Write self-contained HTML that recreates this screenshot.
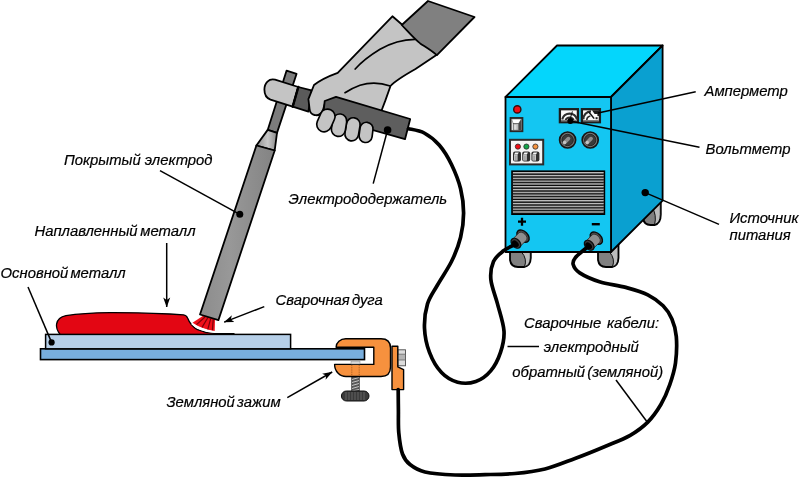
<!DOCTYPE html>
<html>
<head>
<meta charset="utf-8">
<title>Схема ручной дуговой сварки</title>
<style>
html,body{margin:0;padding:0;background:#fff;}
body{width:800px;height:478px;overflow:hidden;}
svg{display:block;}
text{font-family:"Liberation Sans",sans-serif;font-style:italic;font-size:14.85px;fill:#000;stroke:#000;stroke-width:0.2px;word-spacing:-2px;}
.k{stroke:#000;stroke-width:1.8;stroke-linejoin:round;stroke-linecap:round;}
.ld{stroke:#000;stroke-width:1.5;fill:none;}
</style>
</head>
<body>
<svg width="800" height="478" viewBox="0 0 800 478">
<defs>
<linearGradient id="gEl" x1="0" y1="0" x2="1" y2="0">
<stop offset="0" stop-color="#8c8c8c"/><stop offset="0.4" stop-color="#989898"/><stop offset="1" stop-color="#838383"/>
</linearGradient>
<linearGradient id="gTap" x1="0" y1="0" x2="1" y2="0">
<stop offset="0" stop-color="#8e8e8e"/><stop offset="0.55" stop-color="#c8c8c8"/><stop offset="1" stop-color="#8a8a8a"/>
</linearGradient>
<marker id="ah" viewBox="0 0 10 10" refX="9.6" refY="5" markerWidth="10" markerHeight="10" orient="auto" markerUnits="userSpaceOnUse">
<path d="M0,1.5 L10,5 L0,8.5 L2.6,5 Z" fill="#000"/>
</marker>
<filter id="soft" x="-2%" y="-2%" width="104%" height="104%"><feGaussianBlur stdDeviation="0.3"/></filter>
</defs>
<rect width="800" height="478" fill="#fff"/>

<!-- ============ WORKPIECE ============ -->
<g id="work">
<!-- lower plate -->
<rect x="40.5" y="348.8" width="324" height="10.8" fill="#78aedd" stroke="#000" stroke-width="1.6"/>
<!-- weld bead -->
<path d="M60,334.4 C57.5,331 56,327 56.6,324 C57.5,319 60.5,316.6 66,315.6 C80,313.4 95,312.8 110,312.6 C130,312.5 150,313.2 170,314 L183.5,314.8 Q186.6,315.2 187.6,318 Q190.5,325.5 197,329.4 Q205,333 214,333.4 L234,333.6 L234,334.8 L60,334.8 Z" fill="#e30613" stroke="#000" stroke-width="1.3" stroke-linejoin="round"/>
<!-- upper plate -->
<rect x="45.6" y="334.4" width="245" height="14.4" fill="#b6cfe8" stroke="#000" stroke-width="1.5"/>
<!-- arc -->
<path d="M203.5,315.6 L215,319.2 L214.7,330.9 Q201.5,329 192.5,322.8 Z" fill="#f0101a"/>
<g stroke="#7a0008" stroke-width="1.2" fill="none">
<path d="M205,317 L196.5,324.6"/><path d="M207.8,317.8 L202,327.4"/><path d="M210.6,318.8 L207.8,329.4"/><path d="M213.2,319.6 L212.4,330.3"/>
</g>
<!-- white pool crescent -->
<path d="M192.3,323.2 Q201.5,329.6 214.7,331.4 L214.9,332.9 Q199,332 191.3,324.2 Z" fill="#fff"/>
</g>

<!-- ============ CLAMP ============ -->
<g id="clamp">
<!-- lug + bolt -->
<rect x="397.8" y="349.8" width="7.7" height="16" fill="#dcdcdc" stroke="#4a4a4a" stroke-width="0.9"/>
<rect x="398.2" y="354.2" width="6.9" height="5.8" fill="#b4b4b4"/>
<path d="M397.8,354.2 H405.5 M397.8,360 H405.5" stroke="#6a6a6a" stroke-width="0.8"/>
<path d="M392,346.2 L397.8,346.2 L397.8,366.8 L403.6,369.6 L403.6,389.6 L392,389.6 Z" fill="#f6913e" stroke="#000" stroke-width="1.4" stroke-linejoin="round"/>
<!-- screw -->
<rect x="351.8" y="376" width="7.4" height="15" fill="#5a5a5a" stroke="#222" stroke-width="0.8"/>
<path d="M352,379.5 L359,377.5 M352,382.5 L359,380.5 M352,385.5 L359,383.5 M352,388.5 L359,386.5 M352,391 L359,389.5" stroke="#d0d0d0" stroke-width="0.9"/>
<!-- knob -->
<rect x="341.4" y="391" width="27.6" height="10" rx="5" ry="5" fill="#3a3a3a" stroke="#111" stroke-width="1"/>
<g stroke="#777" stroke-width="0.7"><path d="M346,392 V400 M349,392 V400 M352,392 V400 M355,392 V400 M358,392 V400 M361,392 V400 M364,392 V400"/></g>
<!-- C body -->
<path d="M336.1,347.2 A9.6,8.4 0 0 1 345.7,338.8 L381,338.8 Q390.5,338.8 390.5,348 L390.5,367 Q390.5,376.5 381,376.5 L346,376.5 A11.4,12.1 0 0 1 334.6,364.4 L373.8,364.4 L373.8,347.2 Z" fill="#f6913e" stroke="#000" stroke-width="1.4" stroke-linejoin="round"/>
<path d="M351.8,365 V376 M359.2,365 V376" stroke="#7a3a08" stroke-width="0.6" stroke-dasharray="1.2 1"/>
<rect x="351" y="361.6" width="9" height="2.4" fill="#d9d9d9" stroke="#888" stroke-width="0.5"/>
</g>

<!-- ============ ELECTRODE ============ -->
<g id="electrode">
<!-- core rod -->
<path class="k" d="M286.6,70.6 L296.6,73.8 L277,132.9 L267.7,129.9 Z" fill="#7c7c7c"/>
<!-- taper -->
<path class="k" d="M267.7,129.9 L277,132.9 L274.7,150.5 L256.4,145.5 Z" fill="url(#gTap)"/>
<!-- coated body -->
<path class="k" d="M256.4,145.5 L274.7,150.5 L218.4,320.2 L200,314.5 Z" fill="url(#gEl)"/>
</g>

<!-- ============ HOLDER + HAND ============ -->
<g id="hand">
<!-- head -->
<path class="k" d="M298.3,87 L275.1,79.7 C269,78 264.4,83 264.4,89.5 C264.4,95 266.5,98.2 270.5,99.7 L292.7,106.7 Z" fill="#c4c4c4"/>
<!-- joint -->
<path class="k" d="M298.3,87 L311.5,90.4 L308.4,111.6 L292.7,106.7 Z" fill="#5a5a5a"/>
<path d="M298.3,87 L292.7,106.7" stroke="#000" stroke-width="2.4" fill="none" stroke-linecap="round"/>
<!-- glove body -->
<path class="k" d="M392.4,16.3 L436.8,54.7 L415.5,69 Q396,80 390.5,86 L385.4,100.4 L381,112 L336.4,98 L325,103 L323,110 Q320,116.5 314.5,115 Q310,114 309.6,109 L308.4,99.2 L314,85 Q322,78.5 337.7,72.8 Z" fill="#c4c4c4"/>
<!-- sleeve -->
<path class="k" d="M428,1 L474.5,17 L436.9,55.1 C431,50 424,46 420.2,43.4 C415,39.5 408,31.5 401.8,25 Z" fill="#808080"/>
<!-- glove fold lines -->
<path d="M415,39.4 C402,39.6 390,43.5 380,49.3 C369,56 361,62.5 355.2,69" fill="none" stroke="#000" stroke-width="1.7" stroke-linecap="round"/>
<path d="M390.3,86 Q375,80.5 360,85.2 Q351,88.5 345,92.7" fill="none" stroke="#000" stroke-width="1.7" stroke-linecap="round"/>
<!-- handle -->
<path class="k" d="M324.7,101 L336,96.8 L410.2,119 L405,139.2 L330,118 L323.8,110 Z" fill="#5e5e5e"/>
<circle cx="387.6" cy="130" r="3.8" fill="#000"/>
<!-- fingers -->
<line x1="366.5" y1="128.8" x2="365.6" y2="136" stroke="#000" stroke-width="14.7" stroke-linecap="round"/><line x1="366.5" y1="128.8" x2="365.6" y2="136" stroke="#c4c4c4" stroke-width="11.4" stroke-linecap="round"/>
<line x1="353.3" y1="124.6" x2="351.7" y2="134.1" stroke="#000" stroke-width="15.3" stroke-linecap="round"/><line x1="353.3" y1="124.6" x2="351.7" y2="134.1" stroke="#c4c4c4" stroke-width="12.0" stroke-linecap="round"/>
<line x1="339.7" y1="121" x2="338.4" y2="129.4" stroke="#000" stroke-width="15.7" stroke-linecap="round"/><line x1="339.7" y1="121" x2="338.4" y2="129.4" stroke="#c4c4c4" stroke-width="12.4" stroke-linecap="round"/>
<line x1="327.6" y1="116.5" x2="324.1" y2="124.4" stroke="#000" stroke-width="16.5" stroke-linecap="round"/><line x1="327.6" y1="116.5" x2="324.1" y2="124.4" stroke="#c4c4c4" stroke-width="13.2" stroke-linecap="round"/>
</g>

<!-- ============ MACHINE ============ -->
<g id="machine">
<!-- wheels back -->
<path class="k" d="M643,205 L643,218 Q644,225 650.5,225 L654.5,225 Q660.8,223.5 660.8,214.5 L660.8,197 Z" fill="#808080"/>
<path d="M652,207 Q657,215 654.6,224.6 Q660.3,223 660.3,214.5 L660.3,199 Z" fill="#bcbcbc" stroke="#000" stroke-width="0.9"/>
<!-- wheels front -->
<path class="k" d="M510,251 L510,260 Q511,267 518,267 L524,267 Q530.5,266 530.8,258 L530.8,251 Z" fill="#808080"/>
<path d="M521.5,252 Q527.5,259 524.5,266.7 Q530,265.5 530.3,258 L530.3,252 Z" fill="#bcbcbc" stroke="#000" stroke-width="0.9"/>
<path class="k" d="M598,251 L598,260 Q599,267 606,267 L612,267 Q618.2,266 618.5,258 L618.5,244 Z" fill="#808080"/>
<path d="M609.5,252 Q615.5,259 612.5,266.7 Q617.7,265.5 618,258 L618,245.5 Z" fill="#bcbcbc" stroke="#000" stroke-width="0.9"/>
<!-- top -->
<path class="k" d="M505.5,97 L557,45.5 L662.6,45.5 L611,97 Z" fill="#04d6fc" stroke-width="2"/>
<!-- right face -->
<path class="k" d="M611,97 L662.6,45.5 L662.6,200.6 L611,252 Z" fill="#0aa0d0" stroke-width="2"/>
<!-- front -->
<path class="k" d="M505.5,97 L611,97 L611,252 L505.5,252 Z" fill="#14c6f2" stroke-width="2"/>

<!-- grille -->
<rect x="512" y="171.2" width="92.4" height="43" fill="#6a6a6a" stroke="#000" stroke-width="1.6"/>
<g stroke="#cfcfcf" stroke-width="0.9"><line x1="513" y1="172.60" x2="603.6" y2="172.60"/><line x1="513" y1="175.40" x2="603.6" y2="175.40"/><line x1="513" y1="178.20" x2="603.6" y2="178.20"/><line x1="513" y1="181.00" x2="603.6" y2="181.00"/><line x1="513" y1="183.80" x2="603.6" y2="183.80"/><line x1="513" y1="186.60" x2="603.6" y2="186.60"/><line x1="513" y1="189.40" x2="603.6" y2="189.40"/><line x1="513" y1="192.20" x2="603.6" y2="192.20"/><line x1="513" y1="195.00" x2="603.6" y2="195.00"/><line x1="513" y1="197.80" x2="603.6" y2="197.80"/><line x1="513" y1="200.60" x2="603.6" y2="200.60"/><line x1="513" y1="203.40" x2="603.6" y2="203.40"/><line x1="513" y1="206.20" x2="603.6" y2="206.20"/><line x1="513" y1="209.00" x2="603.6" y2="209.00"/><line x1="513" y1="211.80" x2="603.6" y2="211.80"/></g>
<g stroke="#0e0e0e" stroke-width="1"><line x1="513" y1="174.30" x2="603.6" y2="174.30"/><line x1="513" y1="177.10" x2="603.6" y2="177.10"/><line x1="513" y1="179.90" x2="603.6" y2="179.90"/><line x1="513" y1="182.70" x2="603.6" y2="182.70"/><line x1="513" y1="185.50" x2="603.6" y2="185.50"/><line x1="513" y1="188.30" x2="603.6" y2="188.30"/><line x1="513" y1="191.10" x2="603.6" y2="191.10"/><line x1="513" y1="193.90" x2="603.6" y2="193.90"/><line x1="513" y1="196.70" x2="603.6" y2="196.70"/><line x1="513" y1="199.50" x2="603.6" y2="199.50"/><line x1="513" y1="202.30" x2="603.6" y2="202.30"/><line x1="513" y1="205.10" x2="603.6" y2="205.10"/><line x1="513" y1="207.90" x2="603.6" y2="207.90"/><line x1="513" y1="210.70" x2="603.6" y2="210.70"/><line x1="513" y1="213.50" x2="603.6" y2="213.50"/></g>
<!-- red lamp -->
<circle cx="517.3" cy="109.4" r="3.6" fill="#f00d14" stroke="#3a0a0a" stroke-width="1.4"/>
<!-- toggle switch -->
<rect x="510.6" y="118" width="11.8" height="13.2" fill="#f3f3f3" stroke="#262626" stroke-width="1.9"/>
<path d="M511.6,119 L521.4,119 L518.6,123.6 L513.2,123.6 Z" fill="#fff" stroke="#555" stroke-width="0.5"/>
<path d="M521.4,119 L521.4,130.2 L518.6,130.2 L518.6,123.6 Z" fill="#454545"/>
<rect x="513.2" y="123.6" width="5.2" height="6.6" fill="#bcbcbc" stroke="#4a4a4a" stroke-width="0.6"/>
<rect x="514.2" y="125" width="2.2" height="4.6" fill="#dedede"/>
<!-- 3-button panel -->
<rect x="510" y="139.8" width="33.2" height="24.6" fill="#f4f4f4" stroke="#2b2b2b" stroke-width="2"/>
<circle cx="517.9" cy="146.6" r="2.6" fill="#f00d14" stroke="#2a2a2a" stroke-width="0.8"/>
<circle cx="526.4" cy="146.6" r="2.6" fill="#13a54a" stroke="#2a2a2a" stroke-width="0.8"/>
<circle cx="535.4" cy="146.6" r="2.6" fill="#f59340" stroke="#2a2a2a" stroke-width="0.8"/>
<rect x="513" y="151.6" width="8" height="10" rx="2" fill="#2e2e2e"/><path d="M514,154.6 L515.2,152.6 L518.8,152.6 L517.6,154.6 Z" fill="#f5f5f5"/><rect x="514" y="154.6" width="3.6" height="6" fill="#c9c9c9"/><rect x="514.8" y="155.6" width="1.8" height="4.4" fill="#a5a5a5"/>
<rect x="522.2" y="151.6" width="8" height="10" rx="2" fill="#2e2e2e"/><path d="M523.2,154.6 L524.4000000000001,152.6 L528.0,152.6 L526.8000000000001,154.6 Z" fill="#f5f5f5"/><rect x="523.2" y="154.6" width="3.6" height="6" fill="#c9c9c9"/><rect x="524.0" y="155.6" width="1.8" height="4.4" fill="#a5a5a5"/>
<rect x="531.4" y="151.6" width="8" height="10" rx="2" fill="#2e2e2e"/><path d="M532.4,154.6 L533.6,152.6 L537.1999999999999,152.6 L536.0,154.6 Z" fill="#f5f5f5"/><rect x="532.4" y="154.6" width="3.6" height="6" fill="#c9c9c9"/><rect x="533.1999999999999" y="155.6" width="1.8" height="4.4" fill="#a5a5a5"/>
<!-- meters -->
<g>
<rect x="559.9" y="109.2" width="18" height="13" fill="#fafafa" stroke="#1c1c1c" stroke-width="2.3"/>
<rect x="581.9" y="109.2" width="18" height="13" fill="#fafafa" stroke="#1c1c1c" stroke-width="2.3"/>
<path d="M562.2,119.4 A7.6,7.6 0 0 1 577,119.4" fill="none" stroke="#2e2e2e" stroke-width="2.2"/>
<path d="M565.4,120.6 A4.4,4.4 0 0 1 573.8,120.6" fill="none" stroke="#2e2e2e" stroke-width="1.8"/>
<line x1="569.6" y1="120.6" x2="572.4" y2="111.4" stroke="#111" stroke-width="1"/>
<rect x="561" y="120" width="15.8" height="1.5" fill="#7d7d7d"/>
<path d="M583.4,119.4 A7.6,7.6 0 0 1 591,111.4" fill="none" stroke="#2e2e2e" stroke-width="2.2"/>
<path d="M586.8,120.6 A4.4,4.4 0 0 1 590.4,116" fill="none" stroke="#2e2e2e" stroke-width="1.7"/>
<path d="M588.8,112 L594.2,118.6" stroke="#111" stroke-width="1.5" fill="none"/>
<path d="M592,110.2 L599,110.2 L599,116 L597.4,116 L597.4,114 L594.6,114 Z" fill="#1c1c1c"/>
<rect x="595.6" y="117.2" width="2" height="2" fill="#1c1c1c"/>
<rect x="583" y="120" width="15.8" height="1.5" fill="#7d7d7d"/>
</g>
<!-- knobs -->
<g>
<circle cx="567.6" cy="140" r="8" fill="#767676" stroke="#161616" stroke-width="1.7"/><circle cx="567.6" cy="140" r="5.7" fill="#3a3a3a" stroke="#1c1c1c" stroke-width="0.8"/><line x1="564.6" y1="142.5" x2="568.4" y2="138.7" stroke="#8e8e8e" stroke-width="3.8" stroke-linecap="round"/><circle cx="564.6" cy="142.5" r="1.7" fill="#c2c2c2"/>
<circle cx="590.2" cy="140" r="8" fill="#767676" stroke="#161616" stroke-width="1.7"/><circle cx="590.2" cy="140" r="5.7" fill="#3a3a3a" stroke="#1c1c1c" stroke-width="0.8"/><line x1="587.2" y1="142.5" x2="591.0" y2="138.7" stroke="#8e8e8e" stroke-width="3.8" stroke-linecap="round"/><circle cx="587.2" cy="142.5" r="1.7" fill="#c2c2c2"/>
</g>
<!-- connectors -->
<g transform="translate(523,236.2) rotate(135)">
<ellipse cx="0" cy="0" rx="4.8" ry="7.3" fill="#4c4c4c" stroke="#0c0c0c" stroke-width="1.4"/>
<path d="M0.6,-5.3 A3.4,5.3 0 0 0 0.6,5.3 L9.5,5.2 L9.5,-5.2 Z" fill="#8e8e8e" stroke="#2a2a2a" stroke-width="0.8"/>
<ellipse cx="10" cy="0" rx="3.9" ry="5.7" fill="#3a3a3a" stroke="#0c0c0c" stroke-width="1.3"/>
<ellipse cx="10.8" cy="0" rx="2.7" ry="3.9" fill="#000"/>
</g>
<g transform="translate(596.3,238.2) rotate(135)">
<ellipse cx="0" cy="0" rx="4.8" ry="7.3" fill="#4c4c4c" stroke="#0c0c0c" stroke-width="1.4"/>
<path d="M0.6,-5.3 A3.4,5.3 0 0 0 0.6,5.3 L9.5,5.2 L9.5,-5.2 Z" fill="#8e8e8e" stroke="#2a2a2a" stroke-width="0.8"/>
<ellipse cx="10" cy="0" rx="3.9" ry="5.7" fill="#3a3a3a" stroke="#0c0c0c" stroke-width="1.3"/>
<ellipse cx="10.8" cy="0" rx="2.7" ry="3.9" fill="#000"/>
</g>
<!-- plus / minus -->
<path d="M518,221.7 H526 M522,217.7 V225.7" stroke="#000" stroke-width="2.3" fill="none"/>
<path d="M591.8,224.2 H599.8" stroke="#000" stroke-width="2.4" fill="none"/>
</g>

<!-- ============ CABLES ============ -->
<g id="cables" fill="none" stroke="#000" stroke-width="3.7" stroke-linecap="round" stroke-linejoin="round">
<path d="M408.5,128.7 C411.1,129.4 419.1,130.2 424.2,133.0 C429.3,135.8 434.8,139.9 439.4,145.2 C443.9,150.4 448.0,157.2 451.5,164.5 C455.0,171.8 458.6,180.7 460.6,188.8 C462.6,196.9 463.6,204.9 463.6,213.0 C463.6,221.1 462.6,229.2 460.6,237.3 C458.6,245.4 455.4,253.6 451.5,261.5 C447.6,269.4 441.5,277.9 437.5,285.0 C433.5,292.1 429.7,296.7 427.5,303.9 C425.3,311.1 424.2,320.1 424.5,328.2 C424.8,336.3 426.7,345.0 429.5,352.4 C432.3,359.8 436.8,367.6 441.5,372.6 C446.2,377.6 451.9,380.7 457.6,382.2 C463.3,383.7 470.2,383.4 475.8,381.5 C481.4,379.6 486.8,375.5 490.9,370.6 C495.0,365.8 498.3,359.0 500.5,352.4 C502.7,345.8 504.5,339.3 504.0,331.2 C503.5,323.1 499.7,312.5 497.5,303.9 C495.3,295.3 491.6,286.8 490.9,279.7 C490.2,272.6 491.4,266.3 493.5,261.5 C495.6,256.7 500.0,253.6 503.5,250.8 C507.0,248.0 512.7,245.8 514.5,244.8"/>
<path d="M587.8,246.8 C585.7,248.6 577.8,254.6 575.4,257.6 C573.0,260.6 572.5,262.1 573.2,264.6 C573.9,267.2 575.3,270.0 579.7,272.9 C584.1,275.8 591.8,279.3 599.5,281.7 C607.2,284.1 617.8,285.2 625.8,287.4 C633.8,289.6 641.6,291.7 647.8,294.8 C654.0,297.9 659.1,301.8 663.1,305.8 C667.1,309.8 669.7,313.9 671.9,319.0 C674.1,324.1 675.7,329.2 676.3,336.5 C676.9,343.8 676.6,354.8 675.5,362.9 C674.4,370.9 672.1,377.9 669.7,384.8 C667.3,391.7 664.5,398.3 660.9,404.5 C657.2,410.7 652.9,417.0 647.8,422.1 C642.7,427.2 637.3,431.2 630.2,435.3 C623.1,439.4 614.2,442.6 605.0,446.5 C595.8,450.4 585.0,454.8 575.0,458.5 C565.0,462.2 555.0,466.5 545.0,469.0 C535.0,471.5 525.0,472.6 515.0,473.5 C505.0,474.4 495.0,474.4 485.0,474.6 C475.0,474.9 465.0,475.4 455.0,475.0 C445.0,474.6 432.5,473.8 425.0,472.0 C417.5,470.2 413.8,467.5 410.0,464.5 C406.2,461.5 404.4,459.2 402.5,454.0 C400.6,448.8 399.5,440.3 398.8,433.0 C398.1,425.7 398.5,417.2 398.4,410.0 C398.3,402.8 398.2,392.9 398.2,389.5"/>
</g>

<!-- ============ LEADERS ============ -->
<g id="leaders" class="ld">
<line x1="160" y1="170.7" x2="239.8" y2="214.3"/>
<line x1="166.7" y1="243" x2="166.7" y2="307" marker-end="url(#ah)"/>
<line x1="28" y1="287" x2="51.6" y2="342.4"/>
<line x1="264.3" y1="306.6" x2="224.2" y2="322.1" marker-end="url(#ah)"/>
<line x1="287.3" y1="397.7" x2="332.2" y2="372" marker-end="url(#ah)"/>
<line x1="387.6" y1="130" x2="373.2" y2="183.6"/>
<line x1="695.7" y1="91.8" x2="598" y2="113"/>
<line x1="699.5" y1="147.2" x2="570.3" y2="121"/>
<line x1="719" y1="224.4" x2="645.2" y2="192.6"/>
<line x1="507.5" y1="346.5" x2="539" y2="346.5"/>
<line x1="616" y1="380" x2="647.2" y2="422"/>
</g>
<g id="dots" fill="#000">
<circle cx="239.8" cy="214.3" r="3.5"/>
<circle cx="51.6" cy="342.4" r="3.1"/>
<circle cx="570.3" cy="121" r="3"/>
<circle cx="645.2" cy="192.6" r="3.7"/>
</g>
<!-- ============ LABELS ============ -->
<g id="labels" filter="url(#soft)">
<text x="64" y="165" style="word-spacing:0px">Покрытый электрод</text>
<text x="34.6" y="235.5" style="word-spacing:-1.4px">Наплавленный металл</text>
<text x="0.5" y="278">Основной металл</text>
<text x="275.5" y="304.5">Сварочная дуга</text>
<text x="166.5" y="406.5">Земляной зажим</text>
<text x="288.5" y="204.3">Электрододержатель</text>
<text x="704.5" y="95.5">Амперметр</text>
<text x="705.5" y="153.5">Вольтметр</text>
<text x="729.5" y="223">Источник</text>
<text x="729.5" y="240">питания</text>
<text x="524" y="328.3" style="word-spacing:1.5px">Сварочные кабели:</text>
<text x="543.8" y="352">электродный</text>
<text x="512.3" y="377">обратный (земляной)</text>
</g>
</svg>
</body>
</html>
